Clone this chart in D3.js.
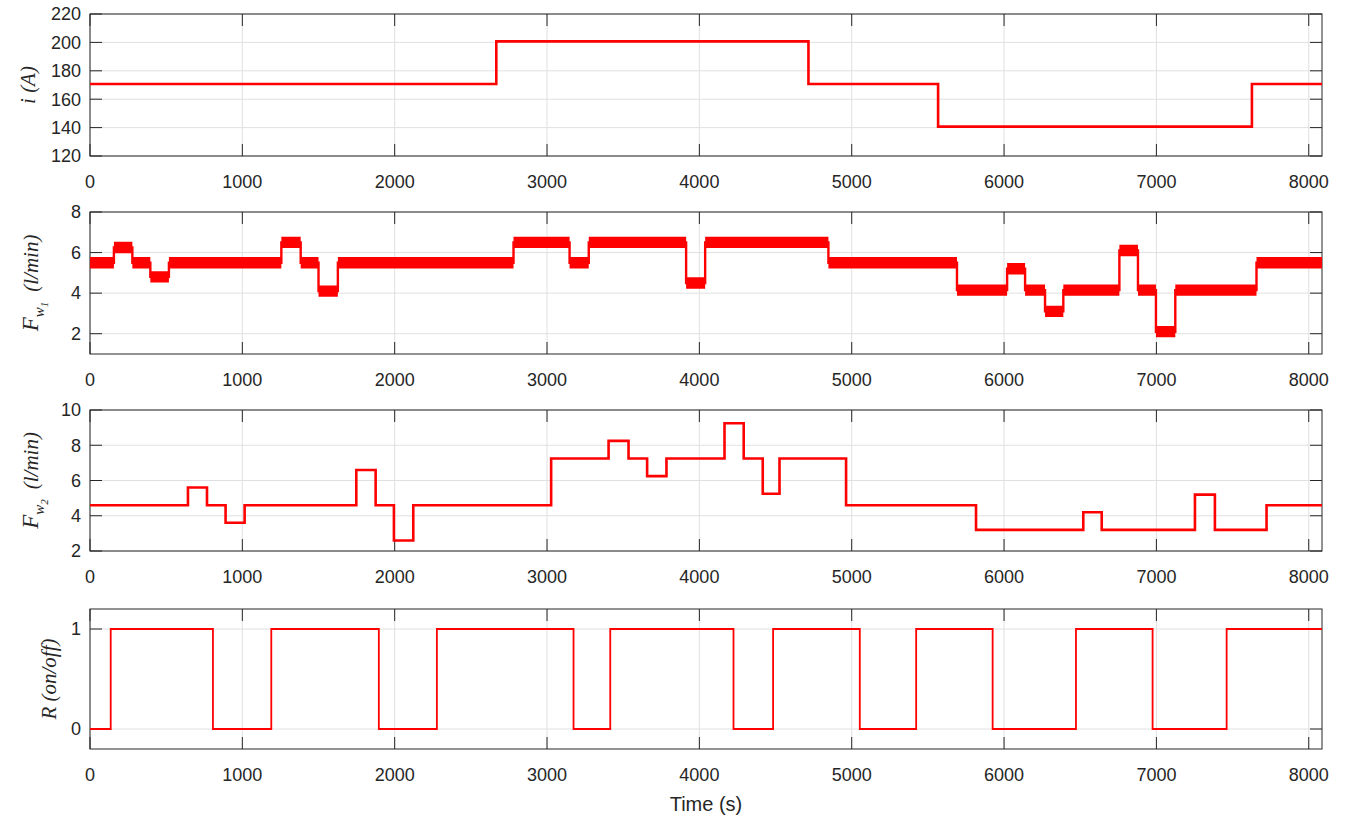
<!DOCTYPE html>
<html>
<head>
<meta charset="utf-8">
<script src="https://cdn.jsdelivr.net/npm/d3@7"></script>
<style>
  body { margin: 0; background: #fff; }
  svg { display: block; }
  .tick-label { font-family: "Liberation Sans", Arial, sans-serif; font-size: 18px; fill: #262626; }
  .ylab { font-family: "Liberation Serif", "Times New Roman", serif; font-style: italic; fill: #262626; }
</style>
</head>
<body>
<svg id="chart" width="1347" height="821"></svg>
<script>
// time axis
const tEnd = 8087;
const xTicks = [0, 1000, 2000, 3000, 4000, 5000, 6000, 7000, 8000];

// current i (A): step start times and levels
const iTimes = [0, 2667, 4716, 5567, 7627];
const iLevels = [170.7, 200.7, 170.7, 140.7, 170.7];
const iTicks = [120, 140, 160, 180, 200, 220];

// water flow Fw1 (l/min)
const fw1Times = [0, 157, 278, 396, 518, 1256, 1383, 1500, 1627, 2780, 3148, 3274, 3913, 4038, 4847,
                  5691, 6020, 6138, 6269, 6389, 6757, 6879, 6997, 7124, 7657];
const fw1Levels = [5.5, 6.25, 5.5, 4.8, 5.5, 6.5, 5.5, 4.1, 5.5, 6.5, 5.5, 6.5, 4.5, 6.5, 5.5,
                   4.15, 5.2, 4.15, 3.1, 4.15, 6.1, 4.15, 2.1, 4.15, 5.5];
const fw1Noise = 0.28;   // half width of the measurement noise band
const fw1Ticks = [2, 4, 6, 8];

// water flow Fw2 (l/min)
const fw2Times = [0, 643, 768, 890, 1015, 1748, 1875, 1995, 2122, 3027, 3404, 3535, 3657, 3784, 4165,
                  4291, 4416, 4526, 4963, 5816, 6520, 6641, 7253, 7384, 7723];
const fw2Levels = [4.6, 5.6, 4.6, 3.6, 4.6, 6.6, 4.6, 2.6, 4.6, 7.25, 8.25, 7.25, 6.25, 7.25, 9.25,
                   7.25, 5.25, 7.25, 4.6, 3.2, 4.2, 3.2, 5.2, 3.2, 4.6];
const fw2Ticks = [2, 4, 6, 8, 10];

// relay R (on/off)
const rTimes = [0, 136, 807, 1190, 1896, 2277, 3174, 3415, 4224, 4484, 5053, 5423, 5925, 6472, 6975, 7461];
const rLevels = [0, 1, 0, 1, 0, 1, 0, 1, 0, 1, 0, 1, 0, 1, 0, 1];
const rTicks = [0, 1];

const svg = d3.select('#chart');
const left = 90, right = 1322;
const tickLen = 12;
const axisColor = '#262626';
const gridColor = '#e0e0e0';

const x = d3.scaleLinear().domain([0, tEnd]).range([left, right]);

function stepPoints(times, levels) {
    let pts = times.map((t, i) => ({t: t, v: levels[i]}));
    pts.push({t: tEnd, v: levels[levels.length - 1]});
    return pts;
}

function drawPanel(cfg, idx) {
    const y = d3.scaleLinear().domain(cfg.domain).range([cfg.bottom, cfg.top]);
    const g = svg.append('g');

    // grid
    g.selectAll('.gx').data(xTicks).join('line')
        .attr('x1', d => x(d)).attr('x2', d => x(d))
        .attr('y1', cfg.top).attr('y2', cfg.bottom)
        .attr('stroke', gridColor).attr('stroke-width', 1);
    g.selectAll('.gy').data(cfg.ticks).join('line')
        .attr('x1', left).attr('x2', right)
        .attr('y1', d => y(d)).attr('y2', d => y(d))
        .attr('stroke', gridColor).attr('stroke-width', 1);

    // box
    g.append('rect')
        .attr('x', left).attr('y', cfg.top)
        .attr('width', right - left).attr('height', cfg.bottom - cfg.top)
        .attr('fill', 'none').attr('stroke', axisColor).attr('stroke-width', 1);

    // ticks on all four sides, pointing in
    const tk = g.append('g').attr('stroke', axisColor).attr('stroke-width', 1);
    tk.selectAll('.tb').data(xTicks).join('line')
        .attr('x1', d => x(d)).attr('x2', d => x(d))
        .attr('y1', cfg.bottom).attr('y2', cfg.bottom - tickLen);
    tk.selectAll('.tt').data(xTicks).join('line')
        .attr('x1', d => x(d)).attr('x2', d => x(d))
        .attr('y1', cfg.top).attr('y2', cfg.top + tickLen);
    tk.selectAll('.tl').data(cfg.ticks).join('line')
        .attr('x1', left).attr('x2', left + tickLen)
        .attr('y1', d => y(d)).attr('y2', d => y(d));
    tk.selectAll('.tr').data(cfg.ticks).join('line')
        .attr('x1', right).attr('x2', right - tickLen)
        .attr('y1', d => y(d)).attr('y2', d => y(d));

    // tick labels
    g.selectAll('.xl').data(xTicks).join('text')
        .attr('class', 'tick-label')
        .attr('x', d => x(d)).attr('y', cfg.bottom + 32)
        .attr('text-anchor', 'middle')
        .text(d => d);
    g.selectAll('.yl').data(cfg.ticks).join('text')
        .attr('class', 'tick-label')
        .attr('x', left - 9).attr('y', d => y(d))
        .attr('dy', '0.35em')
        .attr('text-anchor', 'end')
        .text(d => d);

    // data
    const clipId = 'clip' + idx;
    svg.append('clipPath').attr('id', clipId).append('rect')
        .attr('x', left).attr('y', cfg.top)
        .attr('width', right - left).attr('height', cfg.bottom - cfg.top);
    const pts = stepPoints(cfg.times, cfg.levels);
    const dg = g.append('g').attr('clip-path', 'url(#' + clipId + ')');

    if (cfg.noise) {
        const band = d3.area()
            .curve(d3.curveStepAfter)
            .x(d => x(d.t))
            .y0(d => y(d.v - cfg.noise))
            .y1(d => y(d.v + cfg.noise));
        dg.append('path').datum(pts)
            .attr('d', band)
            .attr('fill', '#ff0000');
    }
    const line = d3.line()
        .curve(d3.curveStepAfter)
        .x(d => x(d.t))
        .y(d => y(d.v));
    dg.append('path').datum(pts)
        .attr('d', line)
        .attr('fill', 'none')
        .attr('stroke', '#ff0000')
        .attr('stroke-width', cfg.lw);

    // y label
    const lab = svg.append('text')
        .attr('class', 'ylab')
        .attr('text-anchor', 'middle')
        .attr('transform', 'translate(' + cfg.labX + ',' + ((cfg.top + cfg.bottom) / 2) + ') rotate(-90)');
    cfg.label(lab);
}

const panels = [
    {top: 14, bottom: 156, domain: [120, 220], ticks: iTicks, times: iTimes, levels: iLevels, lw: 2.6,
     labX: 35,
     label: t => {
        t.append('tspan').attr('font-size', 21).text('i (A)');
     }},
    {top: 212, bottom: 354, domain: [1, 8], ticks: fw1Ticks, times: fw1Times, levels: fw1Levels, lw: 2.4,
     noise: fw1Noise, labX: 38,
     label: t => {
        t.append('tspan').attr('font-size', 23).text('F');
        t.append('tspan').attr('font-size', 15).attr('dy', 6).text('w');
        t.append('tspan').attr('font-size', 11).attr('dy', 4).text('1');
        t.append('tspan').attr('font-size', 21).attr('dy', -10).attr('dx', 10).text('(l/min)');
     }},
    {top: 410, bottom: 551, domain: [2, 10], ticks: fw2Ticks, times: fw2Times, levels: fw2Levels, lw: 2.6,
     labX: 38,
     label: t => {
        t.append('tspan').attr('font-size', 23).text('F');
        t.append('tspan').attr('font-size', 15).attr('dy', 6).text('w');
        t.append('tspan').attr('font-size', 11).attr('dy', 4).text('2');
        t.append('tspan').attr('font-size', 21).attr('dy', -10).attr('dx', 10).text('(l/min)');
     }},
    {top: 609, bottom: 749, domain: [-0.2, 1.2], ticks: rTicks, times: rTimes, levels: rLevels, lw: 1.8,
     labX: 56,
     label: t => {
        t.append('tspan').attr('font-size', 21).text('R (on/off)');
     }}
];

panels.forEach((p, i) => drawPanel(p, i));

// x axis title
svg.append('text')
    .attr('x', (left + right) / 2).attr('y', 811)
    .attr('text-anchor', 'middle')
    .style('font-family', '"Liberation Sans", Arial, sans-serif')
    .style('font-size', '20px')
    .style('fill', '#262626')
    .text('Time (s)');
</script>
</body>
</html>
